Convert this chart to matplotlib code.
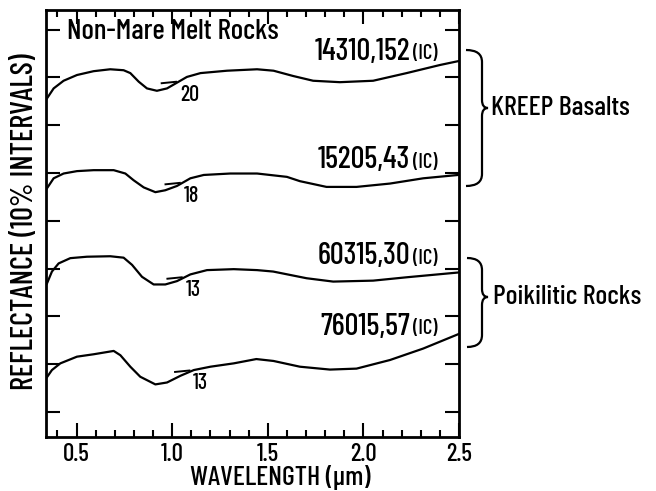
import matplotlib
matplotlib.use("Agg")
import matplotlib.pyplot as plt
from matplotlib import font_manager
from matplotlib.path import Path
from matplotlib.patches import PathPatch
import numpy as np

# condensed lettering like the original; shrink sizes if it is missing
installed = {f.name for f in font_manager.fontManager.ttflist}
if "Barlow Condensed" in installed:
    plt.rcParams['font.family'] = ['Barlow Condensed', 'DejaVu Sans']
    plt.rcParams['font.weight'] = 'medium'
    fs = 1.0
else:
    plt.rcParams['font.family'] = ['Liberation Sans Narrow', 'DejaVu Sans']
    fs = 0.72

# wavelength (um) and reflectance (%, offset curves)
wl1 = [0.345, 0.38, 0.432, 0.502, 0.589, 0.676, 0.746, 0.781, 0.825, 0.868, 0.92,
       0.973, 1.025, 1.077, 1.148, 1.287, 1.444, 1.53, 1.632, 1.737, 1.877, 2.051,
       2.226, 2.401, 2.496]
r1 = [65.6, 67.7, 69.3, 70.5, 71.3, 71.7, 71.5, 70.9, 69.1, 67.7, 67.2,
      67.7, 68.9, 70.1, 70.9, 71.4, 71.7, 71.4, 70.3, 69.3, 69.0, 69.3,
      70.9, 72.6, 73.4]

wl2 = [0.345, 0.38, 0.432, 0.502, 0.589, 0.694, 0.755, 0.798, 0.851, 0.912, 0.964,
       1.025, 1.095, 1.165, 1.304, 1.444, 1.6, 1.668, 1.807, 1.964, 2.139, 2.313,
       2.496]
r2 = [46.8, 48.9, 49.9, 50.4, 50.6, 50.6, 49.9, 48.5, 47.0, 46.0, 46.4,
      47.3, 48.9, 49.6, 49.9, 49.9, 49.2, 48.3, 47.1, 47.1, 47.8, 48.9,
      49.6]

wl3 = [0.345, 0.371, 0.406, 0.467, 0.554, 0.676, 0.746, 0.79, 0.842, 0.903, 0.964,
       1.025, 1.095, 1.182, 1.322, 1.444, 1.528, 1.703, 1.842, 2.051, 2.226, 2.496]
r3 = [26.9, 29.4, 31.1, 32.2, 32.5, 32.6, 32.3, 30.8, 28.3, 26.7, 26.7,
      27.4, 28.8, 29.7, 29.9, 29.7, 29.4, 28.0, 27.3, 27.5, 28.2, 29.2]

wl4 = [0.345, 0.371, 0.415, 0.502, 0.589, 0.694, 0.729, 0.781, 0.833, 0.912, 0.973,
       1.043, 1.113, 1.2, 1.322, 1.44, 1.53, 1.668, 1.825, 1.964, 2.139, 2.313,
       2.496]
r4 = [7.3, 8.8, 10.2, 11.6, 12.1, 12.8, 11.9, 9.5, 7.4, 5.8, 6.2,
      7.6, 8.8, 9.5, 10.2, 11.1, 10.7, 9.5, 8.9, 9.1, 10.9, 13.3,
      16.3]

samples = ["14310,152", "15205,43", "60315,30", "76015,57"]
norm_values = ["20", "18", "13", "13"]   # reflectance at the dash
dash_end = [1.02, 1.04, 1.05, 1.09]
label_y = [75.3, 52.7, 32.6, 17.8]

xticks = [0.5, 1.0, 1.5, 2.0, 2.5]
xtick_labels = ["0.5", "1.0", "1.5", "2.0", "2.5"]

W, H = 656, 491


def px(x, y):
    # pixel position -> figure fraction
    return (x / W, 1 - y / H)


def brace(fig, x0, xs, xp, ytop, ymid, ybot):
    pts = [px(x0, ytop), px(xs, ytop), px(xs, ytop + 12),
           px(xs, ymid - 8), px(xs, ymid), px(xp, ymid),
           px(xs, ymid), px(xs, ymid + 8),
           px(xs, ybot - 12), px(xs, ybot), px(x0, ybot)]
    codes = [Path.MOVETO, Path.CURVE3, Path.CURVE3,
             Path.LINETO, Path.CURVE3, Path.CURVE3,
             Path.CURVE3, Path.CURVE3,
             Path.LINETO, Path.CURVE3, Path.CURVE3]
    fig.patches.append(PathPatch(Path(pts, codes), fill=False, lw=1.6,
                                 color="black", transform=fig.transFigure))


def main():
    fig = plt.figure(figsize=(6.56, 4.91), dpi=100)
    ax = fig.add_axes([46 / W, 1 - 437 / H, 413 / W, 427.5 / H])

    waves = [wl1, wl2, wl3, wl4]
    refl = [r1, r2, r3, r4]
    for i in range(4):
        ax.plot(waves[i], refl[i], "-k", lw=1.6)
        # small dash marking the normalisation point near 1.0 um
        yd = np.interp(dash_end[i], waves[i], refl[i])
        ax.plot([dash_end[i] - 0.075, dash_end[i]], [yd, yd + 0.3], "-k", lw=1.4)
        ax.text(dash_end[i] + 0.02, yd - 0.3, norm_values[i], fontsize=16 * fs,
                ha="left", va="top")
        ax.text(2.245, label_y[i], samples[i], fontsize=22 * fs, ha="right", va="center")
        ax.text(2.26, label_y[i] - 0.4, "(IC)", fontsize=15 * fs, ha="left", va="center")

    ax.text(0.45, 79.5, "Non-Mare Melt Rocks", fontsize=21 * fs, ha="left", va="center")

    ax.set_xlim(0.34, 2.5)
    ax.set_ylim(-5.2, 84.2)
    ax.set_xticks(xticks)
    ax.set_xticklabels(xtick_labels)
    ax.set_xticks(np.arange(0.4, 2.45, 0.1), minor=True)
    ax.set_yticks(np.arange(0, 81, 10))
    ax.set_yticklabels([])
    ax.tick_params(which="both", direction="in", top=True, right=True, width=1.5)
    ax.tick_params(which="major", axis="x", length=10, labelsize=18 * fs, pad=4)
    ax.tick_params(which="minor", axis="x", length=5)
    ax.tick_params(which="major", axis="y", length=10)
    for s in ax.spines.values():
        s.set_linewidth(2)

    fig.text(*px(25, 222), "REFLECTANCE (10% INTERVALS)", rotation=90,
             fontsize=22 * fs, ha="center", va="center")
    fig.text(*px(280, 477), "WAVELENGTH (\u00b5m)", fontsize=20 * fs,
             ha="center", va="center")

    brace(fig, 466, 482, 488, 50, 108, 186)
    brace(fig, 467, 482, 488, 258, 297, 347)
    fig.text(*px(491, 108), "KREEP Basalts", fontsize=20 * fs, ha="left", va="center")
    fig.text(*px(493, 297), "Poikilitic Rocks", fontsize=20 * fs, ha="left", va="center")

    fig.savefig("out.png", dpi=100)


if __name__ == "__main__":
    main()
